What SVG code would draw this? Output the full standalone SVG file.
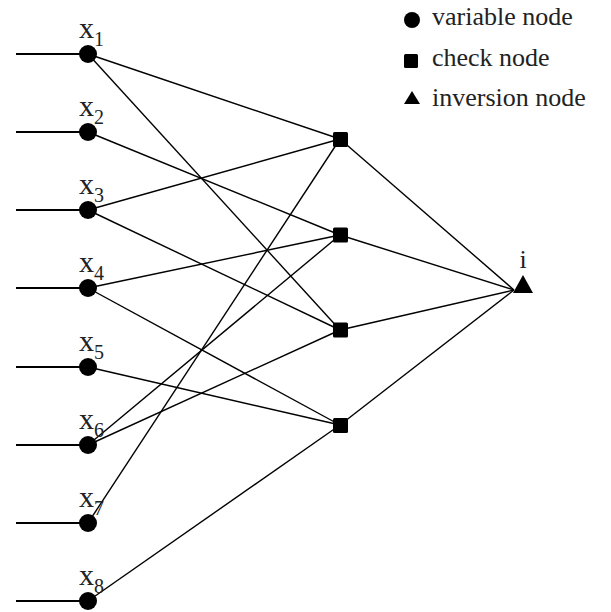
<svg xmlns="http://www.w3.org/2000/svg" width="611" height="612" viewBox="0 0 611 612">
<style>
.edge{stroke:#000;stroke-width:1.4;fill:none}
.input{stroke:#000;stroke-width:2;fill:none}
.var{fill:#000}
.chk{fill:#000}
text{font-family:'Liberation Serif','Times New Roman',Times,serif;fill:#222}
.lbl{font-size:30px}
.sub{font-size:20px}
.leg{font-size:26px}
</style>
<rect width="611" height="612" fill="#fff"/>
<g id="connectors">
<line class="input" x1="16" y1="54" x2="88" y2="54"/>
<line class="input" x1="16" y1="132" x2="88" y2="132"/>
<line class="input" x1="16" y1="210" x2="88" y2="210"/>
<line class="input" x1="16" y1="288" x2="88" y2="288"/>
<line class="input" x1="16" y1="367" x2="88" y2="367"/>
<line class="input" x1="16" y1="445" x2="88" y2="445"/>
<line class="input" x1="16" y1="523" x2="88" y2="523"/>
<line class="input" x1="16" y1="601" x2="88" y2="601"/>
<line class="edge" x1="88" y1="54" x2="340" y2="139"/>
<line class="edge" x1="88" y1="54" x2="340" y2="330"/>
<line class="edge" x1="88" y1="132" x2="340" y2="235"/>
<line class="edge" x1="88" y1="210" x2="340" y2="139"/>
<line class="edge" x1="88" y1="210" x2="340" y2="330"/>
<line class="edge" x1="88" y1="288" x2="340" y2="235"/>
<line class="edge" x1="88" y1="288" x2="340" y2="425"/>
<line class="edge" x1="88" y1="367" x2="340" y2="425"/>
<line class="edge" x1="88" y1="445" x2="340" y2="235"/>
<line class="edge" x1="88" y1="445" x2="340" y2="330"/>
<line class="edge" x1="88" y1="523" x2="340" y2="139"/>
<line class="edge" x1="88" y1="601" x2="340" y2="425"/>
<line class="edge" x1="340" y1="139" x2="514" y2="290"/>
<line class="edge" x1="340" y1="235" x2="514" y2="290"/>
<line class="edge" x1="340" y1="330" x2="514" y2="290"/>
<line class="edge" x1="340" y1="425" x2="514" y2="290"/>
</g>
<g id="x1"><circle class="var" cx="88" cy="54" r="9"/><text class="lbl" x="79" y="38">x</text><text class="sub" x="94" y="46">1</text></g>
<g id="x2"><circle class="var" cx="88" cy="132" r="9"/><text class="lbl" x="79" y="116">x</text><text class="sub" x="94" y="124">2</text></g>
<g id="x3"><circle class="var" cx="88" cy="210" r="9"/><text class="lbl" x="79" y="194">x</text><text class="sub" x="94" y="202">3</text></g>
<g id="x4"><circle class="var" cx="88" cy="288" r="9"/><text class="lbl" x="79" y="272">x</text><text class="sub" x="94" y="280">4</text></g>
<g id="x5"><circle class="var" cx="88" cy="367" r="9"/><text class="lbl" x="79" y="351">x</text><text class="sub" x="94" y="359">5</text></g>
<g id="x6"><circle class="var" cx="88" cy="445" r="9"/><text class="lbl" x="79" y="429">x</text><text class="sub" x="94" y="437">6</text></g>
<g id="x7"><circle class="var" cx="88" cy="523" r="9"/><text class="lbl" x="79" y="507">x</text><text class="sub" x="94" y="515">7</text></g>
<g id="x8"><circle class="var" cx="88" cy="601" r="9"/><text class="lbl" x="79" y="585">x</text><text class="sub" x="94" y="593">8</text></g>
<g id="c1"><rect class="chk" x="333" y="132" width="15" height="15" rx="1.5"/></g>
<g id="c2"><rect class="chk" x="333" y="227.5" width="15" height="15" rx="1.5"/></g>
<g id="c3"><rect class="chk" x="333" y="322.5" width="15" height="15" rx="1.5"/></g>
<g id="c4"><rect class="chk" x="333" y="418" width="15" height="15" rx="1.5"/></g>
<g id="inv"><polygon points="523,275 513,293 533,293" fill="#000"/><text class="leg" x="523" y="268" text-anchor="middle">i</text></g>
<g id="legend">
<circle cx="412" cy="20" r="8" fill="#000"/>
<text class="leg" x="432" y="25">variable node</text>
<rect x="404" y="54" width="14" height="14" rx="1.5" fill="#000"/>
<text class="leg" x="432" y="66">check node</text>
<polygon points="412,91 404,104 420,104" fill="#000"/>
<text class="leg" x="432" y="106">inversion node</text>
</g>
</svg>
